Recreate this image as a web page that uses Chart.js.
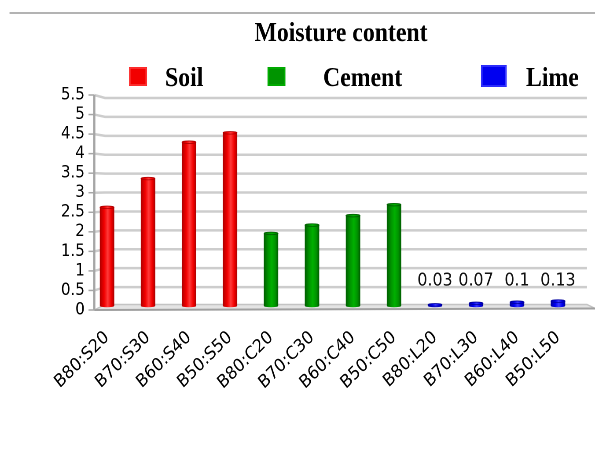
<!DOCTYPE html>
<html>
<head>
<meta charset="utf-8">
<script src="https://cdn.jsdelivr.net/npm/chart.js@4.4.1/dist/chart.umd.min.js"></script>
<style>
  html, body { margin: 0; padding: 0; background: #fff; }
</style>
</head>
<body>
<!-- the original picture is squeezed sideways, so draw wider and let the style squeeze it -->
<canvas id="chart" width="676" height="462" style="display:block;width:595px;height:462px"></canvas>
<script>
const categories = ['B80:S20', 'B70:S30', 'B60:S40', 'B50:S50',
                    'B80:C20', 'B70:C30', 'B60:C40', 'B50:C50',
                    'B80:L20', 'B70:L30', 'B60:L40', 'B50:L50'];
const soil   = [2.61, 3.37, 4.33, 4.58, null, null, null, null, null, null, null, null];
const cement = [null, null, null, null, 1.92, 2.14, 2.39, 2.68, null, null, null, null];
const lime   = [null, null, null, null, null, null, null, null, 0.03, 0.07, 0.1, 0.13];
const seriesNames = ['Soil', 'Cement', 'Lime'];
const yMin = 0, yMax = 5.5, yStep = 0.5;
const chartTitle = 'Moisture content';

// dark edge, body, highlight
const shades = [
    ['#b00000', '#f20000', '#ff3a3a'],
    ['#006000', '#009400', '#00b000'],
    ['#0000a0', '#0000f0', '#3a3aff']
];

const W = 676;
const sx = px => px * W / 595; // picture x -> canvas x

function cylinderFill(s) {
    return function (c) {
        const xs = c.chart.scales.x;
        if (c.type !== 'data' || !xs) return s[1];
        const cx = xs.getPixelForValue(c.dataIndex);
        if (!isFinite(cx)) return s[1];
        const g = c.chart.ctx.createLinearGradient(cx - 8, 0, cx + 8, 0);
        g.addColorStop(0, s[0]);
        g.addColorStop(0.3, s[1]);
        g.addColorStop(0.55, s[2]);
        g.addColorStop(0.8, s[1]);
        g.addColorStop(1, s[0]);
        return g;
    };
}

const decor = {
    id: 'decor',
    beforeDatasetsDraw(chart) {
        const ctx = chart.ctx, yf = chart.scales.y, yb = chart.scales.yb;
        const axisX = sx(94.3), backL = sx(105), backR = sx(587);
        ctx.save();
        // floor
        const fb = yb.getPixelForValue(0) - 1.5;
        const ff = yf.getPixelForValue(0);
        ctx.beginPath();
        ctx.moveTo(axisX, ff);
        ctx.lineTo(backL, fb);
        ctx.lineTo(backR, fb);
        ctx.lineTo(sx(595), ff - 1.5);
        ctx.closePath();
        ctx.fillStyle = '#e4e4e4';
        ctx.fill();
        ctx.lineWidth = 1.5;
        ctx.strokeStyle = '#c4c4c4';
        ctx.beginPath();
        ctx.moveTo(axisX, ff); ctx.lineTo(backL, fb); ctx.lineTo(backR, fb); ctx.lineTo(sx(595), ff - 1.5);
        ctx.stroke();
        ctx.strokeStyle = '#a0a0a0';
        ctx.lineWidth = 2;
        ctx.beginPath();
        ctx.moveTo(axisX, ff); ctx.lineTo(sx(595), ff - 1.5);
        ctx.stroke();

        // back wall grid lines
        ctx.strokeStyle = '#cdcdcd';
        ctx.lineWidth = 2.5;
        for (let v = yMin + yStep; v <= yMax + 1e-9; v += yStep) {
            ctx.beginPath();
            ctx.moveTo(axisX, yf.getPixelForValue(v));
            ctx.lineTo(backL, yb.getPixelForValue(v));
            ctx.lineTo(backR, yb.getPixelForValue(v));
            ctx.stroke();
        }

        // value axis
        ctx.strokeStyle = '#a6a6a6';
        ctx.lineWidth = 2.5;
        ctx.beginPath();
        ctx.moveTo(axisX, yf.getPixelForValue(yMax));
        ctx.lineTo(axisX, yf.getPixelForValue(yMin));
        ctx.stroke();
        ctx.lineWidth = 1.5;
        for (let v = yMin; v <= yMax + 1e-9; v += yStep) {
            const y = yf.getPixelForValue(v);
            ctx.beginPath();
            ctx.moveTo(sx(88.5), y);
            ctx.lineTo(axisX, y);
            ctx.stroke();
        }
        ctx.restore();
    },
    afterDatasetsDraw(chart) {
        const ctx = chart.ctx, yb = chart.scales.yb;
        ctx.save();
        chart.data.datasets.forEach((ds, i) => {
            chart.getDatasetMeta(i).data.forEach((el, j) => {
                if (ds.data[j] == null) return;
                const p = el.getProps(['x', 'y', 'base', 'width'], true);
                ctx.fillStyle = el.options.backgroundColor;
                ctx.strokeStyle = shades[i][0];
                ctx.lineWidth = 0.8;
                ctx.beginPath();
                ctx.ellipse(p.x, p.base, p.width / 2, 1.3, 0, 0, Math.PI * 2);
                ctx.fill();
                ctx.beginPath();
                ctx.ellipse(p.x, p.y, p.width / 2, 1.3, 0, 0, Math.PI * 2);
                ctx.fill();
                ctx.stroke();
            });
        });
        // value labels over the lime bars
        const li = 2;
        ctx.fillStyle = '#111';
        ctx.font = '18px "DejaVu Sans"';
        ctx.textAlign = 'center';
        ctx.textBaseline = 'alphabetic';
        chart.getDatasetMeta(li).data.forEach((el, j) => {
            const v = chart.data.datasets[li].data[j];
            if (v == null) return;
            ctx.fillText(String(v), el.x, yb.getPixelForValue(0) - 20.3);
        });
        ctx.restore();
    },
    afterDraw(chart) {
        const ctx = chart.ctx;
        ctx.save();
        // top rule
        ctx.strokeStyle = '#9a9a9a';
        ctx.lineWidth = 1.5;
        ctx.beginPath();
        ctx.moveTo(sx(9.5), 13);
        ctx.lineTo(W, 13);
        ctx.stroke();

        ctx.fillStyle = '#000';
        ctx.textBaseline = 'alphabetic';
        ctx.textAlign = 'center';
        ctx.font = 'bold 27px "Liberation Serif"';
        ctx.fillText(chartTitle, sx(341), 41);

        // legend
        const boxes = [[129, 147, 67, 86], [267.5, 285.4, 67, 86], [481, 506.6, 65, 87]];
        const textX = [165, 323, 526];
        ctx.textAlign = 'left';
        seriesNames.forEach((name, i) => {
            const b = boxes[i];
            ctx.fillStyle = shades[i][1];
            ctx.fillRect(sx(b[0]), b[2], sx(b[1]) - sx(b[0]), b[3] - b[2]);
            ctx.strokeStyle = shades[i][2];
            ctx.lineWidth = 1.5;
            ctx.strokeRect(sx(b[0]) + 1, b[2] + 1, sx(b[1]) - sx(b[0]) - 2, b[3] - b[2] - 2);
            ctx.fillStyle = '#000';
            ctx.fillText(name, sx(textX[i]), 86);
        });
        ctx.restore();
    }
};

const seriesData = [soil, cement, lime];
const datasets = seriesNames.map((name, i) => ({
    label: name,
    data: seriesData[i],
    yAxisID: 'yb',
    grouped: false,
    barThickness: 16,
    backgroundColor: cylinderFill(shades[i]),
    borderColor: shades[i][0],
    borderWidth: 0.8,
    borderSkipped: 'start'
}));

// bars: 0 at 306px, 5.5 at 98px inside a chart area of 95..310
const pxPerUnit = (306 - 98) / 5.5;

new Chart(document.getElementById('chart'), {
    type: 'bar',
    data: { labels: categories, datasets: datasets },
    plugins: [decor],
    options: {
        responsive: false,
        devicePixelRatio: 2,
        animation: false,
        layout: { padding: { top: 95, right: W - sx(578.5), bottom: 0, left: 0 } },
        plugins: {
            legend: { display: false },
            title: { display: false },
            tooltip: { enabled: false }
        },
        scales: {
            x: {
                grid: { display: false, drawTicks: false },
                border: { display: false },
                ticks: {
                    color: '#000',
                    font: { family: 'DejaVu Sans', size: 18 },
                    minRotation: 41.3,
                    maxRotation: 41.3,
                    padding: 17,
                    autoSkip: false
                },
                afterFit: s => { s.height = 462 - 310; }
            },
            y: {
                min: yMin,
                max: yMax,
                grid: { display: false, drawTicks: false },
                border: { display: false },
                ticks: {
                    stepSize: yStep,
                    autoSkip: false,
                    color: '#000',
                    font: { family: 'DejaVu Sans', size: 17 },
                    padding: 2,
                    callback: v => String(+v.toFixed(2))
                },
                afterFit: s => { s.width = sx(86.5); }
            },
            yb: {
                display: false,
                min: -4 / pxPerUnit,
                max: yMax + 3 / pxPerUnit
            }
        }
    }
});
</script>
</body>
</html>
